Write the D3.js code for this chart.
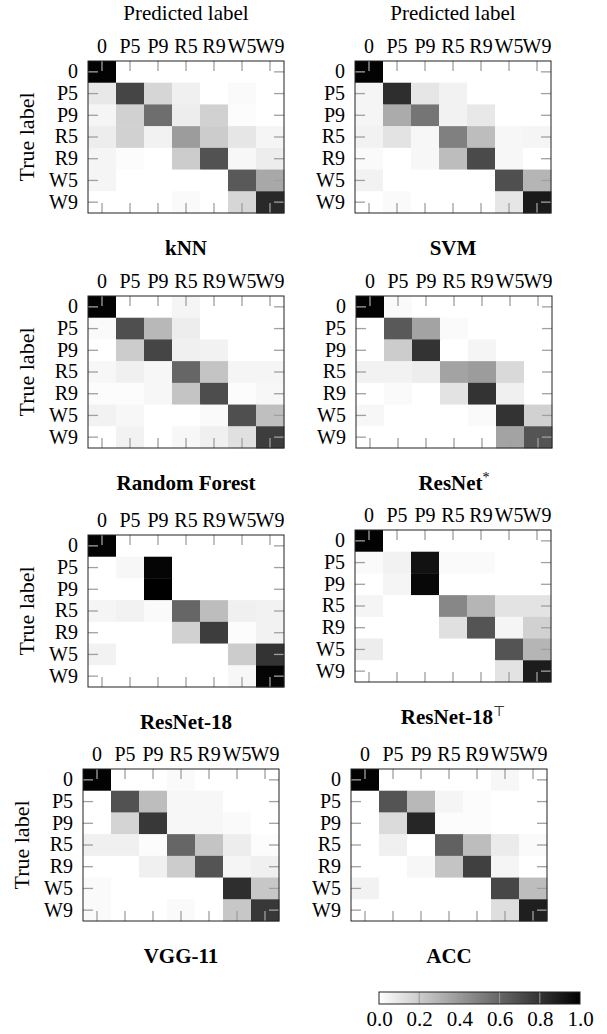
<!DOCTYPE html>
<html>
<head>
<meta charset="utf-8">
<script src="https://cdn.jsdelivr.net/npm/d3@7"></script>
<style>
  body { margin: 0; background: #fff; }
  text { font-family: 'Liberation Serif', 'Times New Roman', serif; fill: #000; }
</style>
</head>
<body>
<div class="canvas-cm"></div>
<script>
// class labels (rows = true label, columns = predicted label)
const classes = ['0', 'P5', 'P9', 'R5', 'R9', 'W5', 'W9'];

const knn = [
  [0.99, 0, 0, 0, 0, 0, 0],
  [0.09, 0.73, 0.16, 0.06, 0, 0.02, 0],
  [0.04, 0.18, 0.57, 0.07, 0.18, 0.01, 0],
  [0.07, 0.18, 0.05, 0.39, 0.2, 0.1, 0.04],
  [0.04, 0.01, 0, 0.2, 0.68, 0.03, 0.07],
  [0.04, 0, 0, 0, 0, 0.65, 0.34],
  [0, 0, 0, 0.02, 0, 0.16, 0.84]
];
const svm = [
  [0.99, 0, 0, 0, 0, 0, 0],
  [0.04, 0.82, 0.1, 0.05, 0, 0, 0],
  [0.04, 0.33, 0.54, 0.05, 0.09, 0, 0],
  [0.05, 0.11, 0.03, 0.5, 0.26, 0.03, 0.04],
  [0.02, 0, 0.03, 0.26, 0.71, 0.03, 0],
  [0.05, 0, 0, 0, 0, 0.69, 0.29],
  [0, 0.02, 0, 0, 0, 0.1, 0.9]
];
const randomForest = [
  [0.99, 0, 0, 0.04, 0, 0, 0],
  [0.02, 0.69, 0.28, 0.07, 0, 0, 0],
  [0, 0.2, 0.73, 0.06, 0.05, 0, 0],
  [0.03, 0.06, 0.03, 0.6, 0.23, 0.04, 0.04],
  [0.01, 0.01, 0.03, 0.23, 0.7, 0.01, 0.03],
  [0.05, 0.03, 0, 0, 0.02, 0.69, 0.25],
  [0, 0.05, 0, 0.03, 0.06, 0.12, 0.76]
];
const resNetStar = [
  [0.99, 0.02, 0, 0, 0, 0, 0],
  [0, 0.65, 0.36, 0.02, 0, 0, 0],
  [0, 0.2, 0.8, 0, 0.04, 0, 0],
  [0.05, 0.05, 0.07, 0.36, 0.39, 0.15, 0],
  [0, 0.02, 0, 0.11, 0.8, 0.06, 0],
  [0.03, 0, 0, 0, 0.02, 0.8, 0.18],
  [0, 0, 0, 0, 0, 0.36, 0.67]
];
const resNet18 = [
  [0.99, 0, 0, 0, 0, 0, 0],
  [0, 0.03, 0.98, 0, 0, 0, 0],
  [0, 0, 1.0, 0, 0, 0, 0],
  [0.04, 0.05, 0.02, 0.6, 0.26, 0.06, 0.05],
  [0, 0, 0, 0.18, 0.76, 0.01, 0.05],
  [0.05, 0, 0, 0, 0, 0.2, 0.8],
  [0, 0, 0, 0, 0, 0.03, 0.98]
];
const resNet18T = [
  [0.99, 0, 0, 0, 0, 0, 0],
  [0.02, 0.05, 0.93, 0.02, 0.02, 0, 0],
  [0, 0.04, 0.97, 0, 0, 0, 0],
  [0.04, 0, 0, 0.47, 0.29, 0.11, 0.11],
  [0, 0, 0, 0.12, 0.67, 0.04, 0.18],
  [0.07, 0, 0, 0, 0, 0.67, 0.29],
  [0, 0, 0, 0, 0, 0.11, 0.89]
];
const vgg11 = [
  [0.99, 0, 0, 0.02, 0, 0, 0],
  [0, 0.68, 0.26, 0.03, 0.03, 0, 0],
  [0, 0.17, 0.78, 0.03, 0.03, 0.02, 0],
  [0.06, 0.06, 0.01, 0.6, 0.23, 0.07, 0.01],
  [0, 0, 0.06, 0.2, 0.67, 0.04, 0.06],
  [0.02, 0, 0, 0, 0, 0.82, 0.22],
  [0.02, 0, 0, 0.02, 0, 0.22, 0.78]
];
const acc = [
  [0.99, 0, 0, 0, 0, 0.03, 0],
  [0, 0.67, 0.28, 0.04, 0.01, 0, 0],
  [0, 0.14, 0.85, 0.01, 0.01, 0, 0],
  [0, 0.06, 0, 0.62, 0.26, 0.08, 0.02],
  [0, 0, 0.03, 0.23, 0.75, 0.04, 0],
  [0.05, 0, 0, 0, 0, 0.72, 0.26],
  [0, 0, 0, 0, 0, 0.13, 0.88]
];

const panelNames = ['kNN', 'SVM', 'Random Forest', 'ResNet', 'ResNet-18', 'ResNet-18', 'VGG-11', 'ACC'];
const panelSups = ['', '', '', '*', '', '\u22A4', '', ''];
const panelValues = [knn, svm, randomForest, resNetStar, resNet18, resNet18T, vgg11, acc];

const colorbarTicks = [0, 0.2, 0.4, 0.6, 0.8, 1.0];

// layout
const W = 607, H = 1034;
const mw = 196, mh = 152;
const panelLeft = [[88, 355], [88, 356], [88, 355], [83, 351]];
const panelTop = [[61, 61], [296, 296], [535, 530], [769, 769]];
const tickLen = 10;
const tickColor = '#a0a0a0';

const color = d3.scaleLinear().domain([0, 1]).range(['#ffffff', '#000000']);

const svg = d3.select('.canvas-cm').append('svg').attr('width', W).attr('height', H);

const styleAxis = g => {
  g.select('.domain').remove();
  g.selectAll('.tick line').attr('stroke', tickColor).attr('stroke-width', 1.3);
  g.attr('font-size', 20).attr('font-family', "'Liberation Serif', serif");
  g.selectAll('text').attr('fill', '#000');
};

panelValues.forEach((values, i) => {
  const r = Math.floor(i / 2), c = i % 2;
  const graph = svg.append('g').attr('transform', `translate(${panelLeft[r][c]}, ${panelTop[r][c]})`);

  const x = d3.scaleBand().domain(classes).range([0, mw]);
  const y = d3.scaleBand().domain(classes).range([0, mh]);

  const cells = values.flatMap((row, ri) => row.map((v, ci) => ({ t: classes[ri], p: classes[ci], v })));

  graph
    .selectAll('rect.cell')
    .data(cells)
    .enter()
    .append('rect')
    .attr('class', 'cell')
    .attr('x', d => x(d.p))
    .attr('y', d => y(d.t))
    .attr('width', x.bandwidth() + 0.4)
    .attr('height', y.bandwidth() + 0.4)
    .attr('fill', d => color(d.v));

  graph.append('g').call(d3.axisTop(x).tickSize(-tickLen).tickPadding(8)).call(styleAxis);
  graph.append('g').call(d3.axisLeft(y).tickSize(-tickLen).tickPadding(10)).call(styleAxis);
  graph
    .append('g')
    .attr('transform', `translate(0, ${mh})`)
    .call(d3.axisBottom(x).tickSize(-tickLen).tickFormat(''))
    .call(styleAxis);
  graph
    .append('g')
    .attr('transform', `translate(${mw}, 0)`)
    .call(d3.axisRight(y).tickSize(-tickLen).tickFormat(''))
    .call(styleAxis);

  graph
    .append('rect')
    .attr('width', mw)
    .attr('height', mh)
    .attr('fill', 'none')
    .attr('stroke', '#222')
    .attr('stroke-width', 1);

  const title = graph
    .append('text')
    .attr('x', mw / 2)
    .attr('y', mh + 42)
    .attr('text-anchor', 'middle')
    .attr('font-size', 21)
    .attr('font-weight', 'bold')
    .text(panelNames[i]);
  if (panelSups[i]) {
    title
      .append('tspan')
      .attr('dy', -8)
      .attr('font-size', 14)
      .attr('font-weight', 'normal')
      .attr('font-family', panelSups[i] === '*' ? "'Liberation Serif', serif" : "'DejaVu Sans', sans-serif")
      .text(panelSups[i]);
  }

  if (r === 0) {
    graph
      .append('text')
      .attr('x', mw / 2)
      .attr('y', -41)
      .attr('text-anchor', 'middle')
      .attr('font-size', 21)
      .text('Predicted label');
  }
  if (c === 0) {
    graph
      .append('text')
      .attr('transform', `translate(-54, ${mh / 2}) rotate(-90)`)
      .attr('text-anchor', 'middle')
      .attr('font-size', 22)
      .text('True label');
  }
});

// colorbar
const cbX = 379, cbY = 992, cbW = 201, cbH = 12;
const cScale = d3.scaleLinear().domain([0, 1]).range([0, cbW]);

const grad = svg
  .append('defs')
  .append('linearGradient')
  .attr('id', 'cb-grad')
  .attr('x1', '0%')
  .attr('x2', '100%');
grad
  .selectAll('stop')
  .data(colorbarTicks)
  .enter()
  .append('stop')
  .attr('offset', d => `${d * 100}%`)
  .attr('stop-color', d => color(d));

const cb = svg.append('g').attr('transform', `translate(${cbX}, ${cbY})`);
cb.append('rect').attr('width', cbW).attr('height', cbH).attr('fill', 'url(#cb-grad)');
cb
  .selectAll('line.cb-tick')
  .data(colorbarTicks.slice(1, -1))
  .enter()
  .append('line')
  .attr('class', 'cb-tick')
  .attr('x1', d => cScale(d))
  .attr('x2', d => cScale(d))
  .attr('y1', 0)
  .attr('y2', cbH)
  .attr('stroke', '#999')
  .attr('stroke-width', 1);
cb.append('rect').attr('width', cbW).attr('height', cbH).attr('fill', 'none').attr('stroke', '#222');

cb
  .append('g')
  .attr('transform', `translate(0, ${cbH})`)
  .call(d3.axisBottom(cScale).tickValues(colorbarTicks).tickSize(0).tickPadding(7).tickFormat(d3.format('.1f')))
  .call(g => g.select('.domain').remove())
  .attr('font-size', 21)
  .attr('font-family', "'Liberation Serif', serif")
  .selectAll('text')
  .attr('fill', '#000');
</script>
</body>
</html>
